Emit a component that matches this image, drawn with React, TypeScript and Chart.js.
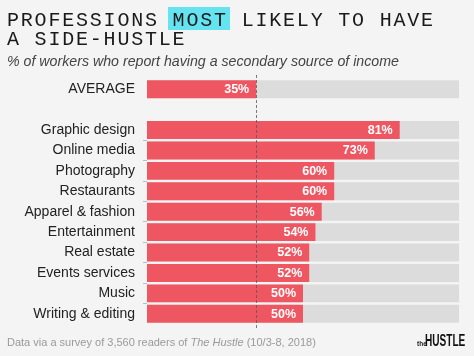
import React, { useEffect, useRef } from "react";
import { Chart, registerables } from "chart.js";

Chart.register(...registerables);

const AVERAGE_LABEL = "AVERAGE";
const AVERAGE_VALUE = 35;
const CATEGORIES = [
  "Graphic design",
  "Online media",
  "Photography",
  "Restaurants",
  "Apparel & fashion",
  "Entertainment",
  "Real estate",
  "Events services",
  "Music",
  "Writing & editing",
];
const VALUES = [81, 73, 60, 60, 56, 54, 52, 52, 50, 50];
const AXIS_MAX = 100;

const RED = "#ee5762";
const TRACK = "#dcdcdc";
const BG = "#f4f4f4";

export default function App() {
  const ref = useRef<HTMLCanvasElement | null>(null);

  useEffect(() => {
    document.body.style.margin = "0";
    document.body.style.background = BG;
    const labels = [AVERAGE_LABEL, "", ...CATEGORIES];
    const values = [AVERAGE_VALUE, null, ...VALUES];
    const track = labels.map((l) => (l ? AXIS_MAX : null));

    const overlay = {
      id: "overlay",
      afterDatasetsDraw(chart: any) {
        const { ctx } = chart;
        const meta = chart.getDatasetMeta(0);
        ctx.save();
        ctx.fillStyle = "#ffffff";
        ctx.font = "bold 12.5px 'Liberation Sans', Arial, sans-serif";
        ctx.textAlign = "right";
        ctx.textBaseline = "middle";
        meta.data.forEach((bar: any, i: number) => {
          const v = values[i];
          if (v == null) return;
          ctx.fillText(v + "%", bar.x - 7, bar.y + 0.5);
        });
        const x = Math.round(chart.scales.x.getPixelForValue(AVERAGE_VALUE)) + 0.5;
        ctx.strokeStyle = "rgba(90,90,90,0.8)";
        ctx.lineWidth = 1;
        ctx.setLineDash([3, 2]);
        ctx.beginPath();
        ctx.moveTo(x, 75);
        ctx.lineTo(x, 328);
        ctx.stroke();
        ctx.restore();
      },
    };

    const chart = new Chart(ref.current as HTMLCanvasElement, {
      type: "bar",
      data: {
        labels,
        datasets: [
          {
            data: values as any,
            backgroundColor: RED,
            grouped: false,
            barPercentage: 1,
            categoryPercentage: 0.88,
            order: 0,
          } as any,
          {
            data: track as any,
            backgroundColor: TRACK,
            grouped: false,
            barPercentage: 1,
            categoryPercentage: 0.88,
            order: 1,
          } as any,
        ],
      },
      options: {
        indexAxis: "y",
        animation: false,
        responsive: true,
        maintainAspectRatio: false,
        layout: { padding: { top: 79, bottom: 32, right: 15, left: 0 } },
        plugins: { legend: { display: false }, tooltip: { enabled: false } },
        scales: {
          x: { display: false, min: 0, max: AXIS_MAX },
          y: {
            afterFit(scale: any) {
              scale.width = 147;
            },
            border: { display: false },
            grid: {
              offset: true,
              drawOnChartArea: false,
              drawTicks: true,
              tickLength: 4,
              color: (c: any) => (c.index >= 3 && c.index <= 11 ? "#bbbbbb" : "rgba(0,0,0,0)"),
            },
            ticks: {
              color: "#222222",
              padding: 8,
              font: { family: "'Liberation Sans', Arial, sans-serif", size: 14 },
            },
          },
        },
      },
      plugins: [overlay],
    });
    return () => chart.destroy();
  }, []);

  const mono = "'Liberation Mono', 'DejaVu Sans Mono', monospace";
  const sans = "'Liberation Sans', Arial, sans-serif";

  return (
    <div style={{ position: "absolute", left: 0, top: 0, width: 474, height: 356, background: BG, overflow: "hidden" }}>
      <canvas ref={ref} style={{ position: "absolute", left: 0, top: 0 }} />
      <div style={{ position: "absolute", left: 0, top: 0, width: 474, height: 356 }}>
        <div style={{ position: "absolute", left: 168, top: 7, width: 62, height: 22.5, background: "#66e3f0" }} />
        <div
          style={{
            position: "absolute",
            left: 7,
            top: 11,
            fontFamily: mono,
            fontSize: 20,
            letterSpacing: 1.8,
            lineHeight: "19px",
            color: "#1a1a1a",
            whiteSpace: "nowrap",
          }}
        >
          <div>PROFESSIONS MOST LIKELY TO HAVE</div>
          <div>A SIDE-HUSTLE</div>
        </div>
        <div
          style={{
            position: "absolute",
            left: 7,
            top: 53,
            fontFamily: sans,
            fontStyle: "italic",
            fontSize: 14.2,
            lineHeight: "16px",
            color: "#444",
            whiteSpace: "nowrap",
          }}
        >
          % of workers who report having a secondary source of income
        </div>
        <div
          style={{
            position: "absolute",
            left: 7,
            top: 336,
            fontFamily: sans,
            fontSize: 11,
            lineHeight: "13px",
            color: "#9a9a9a",
            whiteSpace: "nowrap",
          }}
        >
          Data via a survey of 3,560 readers of <i>The Hustle</i> (10/3-8, 2018)
        </div>
        <div
          style={{
            position: "absolute",
            left: 417,
            top: 341,
            fontFamily: sans,
            fontWeight: "bold",
            fontSize: 6.5,
            lineHeight: "6px",
            color: "#222",
          }}
        >
          the
        </div>
        <div
          style={{
            position: "absolute",
            left: 425,
            top: 333,
            fontFamily: sans,
            fontWeight: "bold",
            fontSize: 16,
            lineHeight: "16px",
            color: "#111",
            whiteSpace: "nowrap",
            transform: "scaleX(0.63)",
            transformOrigin: "left",
          }}
        >
          HUSTLE
        </div>
      </div>
    </div>
  );
}
